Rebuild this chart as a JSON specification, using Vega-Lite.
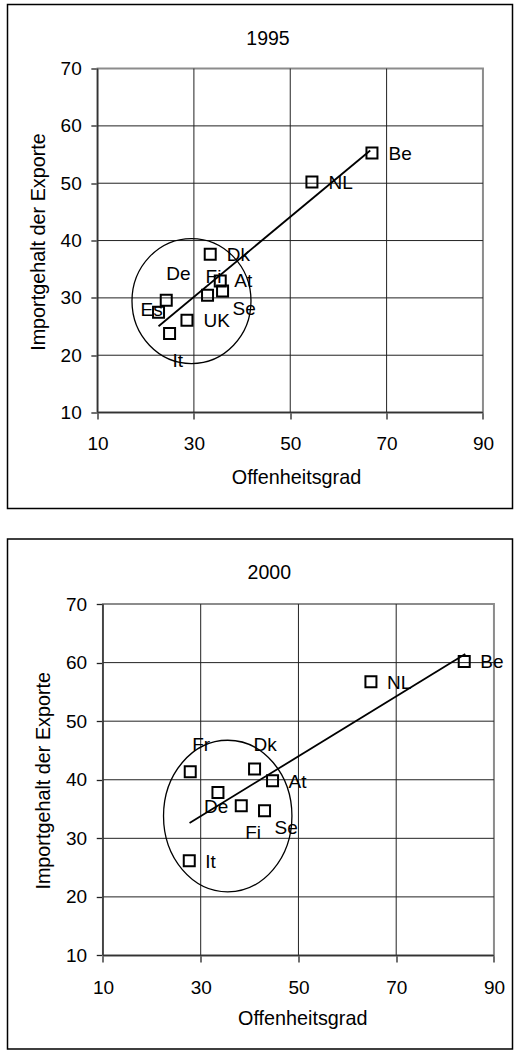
{
  "$schema": "https://vega.github.io/schema/vega-lite/v6.json",
  "background": "white",
  "padding": {"left": 6.5, "top": 3.5, "right": 0, "bottom": 0},
  "spacing": 28.5,
  "datasets": {
    "d1995": [
      {"land": "Be", "x": 66.96, "y": 55.28},
      {"land": "NL", "x": 54.5, "y": 50.22},
      {"land": "Dk", "x": 33.39, "y": 37.61},
      {"land": "At", "x": 35.47, "y": 32.95},
      {"land": "Se", "x": 35.95, "y": 31.21},
      {"land": "Fi", "x": 32.83, "y": 30.46},
      {"land": "De", "x": 24.26, "y": 29.59},
      {"land": "Es", "x": 22.66, "y": 27.49},
      {"land": "UK", "x": 28.56, "y": 26.1},
      {"land": "It", "x": 24.95, "y": 23.78}
    ],
    "d2000": [
      {"land": "Be", "x": 83.92, "y": 60.2},
      {"land": "NL", "x": 64.83, "y": 56.73},
      {"land": "Fr", "x": 27.86, "y": 41.37},
      {"land": "Dk", "x": 41.02, "y": 41.83},
      {"land": "At", "x": 44.7, "y": 39.83},
      {"land": "De", "x": 33.53, "y": 37.83},
      {"land": "Fi", "x": 38.3, "y": 35.56},
      {"land": "Se", "x": 43.06, "y": 34.71},
      {"land": "It", "x": 27.66, "y": 26.17}
    ],
    "t1995": [{"x": 22.66, "y": 25.05}, {"x": 66.6, "y": 55.7}],
    "t2000": [{"x": 27.72, "y": 32.61}, {"x": 84.13, "y": 61.46}],
    "k1995": [{"x": 29.5, "y": 29.45}],
    "k2000": [{"x": 35.53, "y": 33.8}],
    "gv": [{"x": 30, "y": 10, "y2": 70}, {"x": 50, "y": 10, "y2": 70}, {"x": 70, "y": 10, "y2": 70}],
    "gh": [{"x": 10, "x2": 90, "y": 20}, {"x": 10, "x2": 90, "y": 30}, {"x": 10, "x2": 90, "y": 40}, {"x": 10, "x2": 90, "y": 50}, {"x": 10, "x2": 90, "y": 60}],
    "frame": [{"x": 10, "x2": 90, "y": 10, "y2": 70}],
    "axl": [{"x": 10, "y": 10, "y2": 70}],
    "axb": [{"x": 10, "x2": 90, "y": 10}]
  },
  "vconcat": [
    {
      "width": 505,
      "height": 504,
      "title": {"text": "1995", "offset": -45, "dx": 8},
      "encoding": {
        "x": {"field": "x", "type": "quantitative",
          "scale": {"domain": [-8.692, 96.134], "nice": false, "zero": false},
          "axis": {"title": "Offenheitsgrad", "values": [10, 30, 50, 70, 90], "offset": -95.95, "tickSize": 6.5, "labelPadding": 15.5,
            "titleX": 288.5, "titleY": 70.5, "titleAlign": "center", "titleBaseline": "alphabetic", "titleAngle": 0}},
        "y": {"field": "y", "type": "quantitative",
          "scale": {"domain": [-6.735, 81.172], "nice": false, "zero": false},
          "axis": {"title": "Importgehalt der Exporte", "values": [10, 20, 30, 40, 50, 60, 70], "offset": -90.05, "tickSize": 6.7, "labelPadding": 9.6,
            "titleX": -53, "titleY": 237, "titleAlign": "center", "titleBaseline": "alphabetic", "titleAngle": -90}}
      },
      "layer": [
        {"data": {"name": "frame"}, "mark": {"type": "rect", "fill": null, "stroke": "#8c8c8c", "strokeWidth": 2}, "encoding": {"x2": {"field": "x2"}, "y2": {"field": "y2"}}},
        {"data": {"name": "gv"}, "mark": {"type": "rule", "color": "#222", "strokeWidth": 1}, "encoding": {"y2": {"field": "y2"}}},
        {"data": {"name": "gh"}, "mark": {"type": "rule", "color": "#222", "strokeWidth": 1}, "encoding": {"x2": {"field": "x2"}}},
        {"data": {"name": "axl"}, "mark": {"type": "rule", "color": "#333", "strokeWidth": 1.5}, "encoding": {"y2": {"field": "y2"}}},
        {"data": {"name": "axb"}, "mark": {"type": "rule", "color": "#333", "strokeWidth": 1.5}, "encoding": {"x2": {"field": "x2"}}},
        {"data": {"name": "k1995"}, "mark": {"type": "point", "shape": "M 0.952 0 C 0.952 0.5523 0.5258 1 0 1 C -0.5258 1 -0.952 0.5523 -0.952 0 C -0.952 -0.5523 -0.5258 -1 0 -1 C 0.5258 -1 0.952 -0.5523 0.952 0 Z", "size": 15625, "filled": false, "stroke": "black", "strokeWidth": 1.3, "opacity": 1}},
        {"data": {"name": "t1995"}, "mark": {"type": "line", "color": "black", "strokeWidth": 1.8}},
        {"data": {"name": "d1995"}, "mark": {"type": "point", "shape": "square", "size": 121, "filled": false, "stroke": "black", "strokeWidth": 2, "opacity": 1}},
        {"data": {"name": "d1995"}, "transform": [{"filter": {"field": "land", "oneOf": ["Be", "NL", "Dk", "UK"]}}], "mark": {"type": "text", "align": "left", "baseline": "middle", "dx": 16.5, "dy": 1, "fontSize": 19, "color": "black"}, "encoding": {"text": {"field": "land"}}},
        {"data": {"name": "d1995"}, "transform": [{"filter": {"field": "land", "equal": "De"}}], "mark": {"type": "text", "align": "left", "baseline": "middle", "dx": 0, "dy": -26, "fontSize": 19, "color": "black"}, "encoding": {"text": {"field": "land"}}},
        {"data": {"name": "d1995"}, "transform": [{"filter": {"field": "land", "equal": "Fi"}}], "mark": {"type": "text", "align": "left", "baseline": "middle", "dx": -2, "dy": -18, "fontSize": 19, "color": "black"}, "encoding": {"text": {"field": "land"}}},
        {"data": {"name": "d1995"}, "transform": [{"filter": {"field": "land", "equal": "At"}}], "mark": {"type": "text", "align": "left", "baseline": "middle", "dx": 14, "dy": 0, "fontSize": 19, "color": "black"}, "encoding": {"text": {"field": "land"}}},
        {"data": {"name": "d1995"}, "transform": [{"filter": {"field": "land", "equal": "Se"}}], "mark": {"type": "text", "align": "left", "baseline": "middle", "dx": 10, "dy": 18, "fontSize": 19, "color": "black"}, "encoding": {"text": {"field": "land"}}},
        {"data": {"name": "d1995"}, "transform": [{"filter": {"field": "land", "equal": "Es"}}], "mark": {"type": "text", "align": "left", "baseline": "middle", "dx": -18, "dy": -2, "fontSize": 19, "color": "black"}, "encoding": {"text": {"field": "land"}}},
        {"data": {"name": "d1995"}, "transform": [{"filter": {"field": "land", "equal": "It"}}], "mark": {"type": "text", "align": "left", "baseline": "middle", "dx": 3, "dy": 27, "fontSize": 19, "color": "black"}, "encoding": {"text": {"field": "land"}}}
      ]
    },
    {
      "width": 505,
      "height": 510,
      "title": {"text": "2000", "offset": -44.4, "dx": 9.3},
      "encoding": {
        "x": {"field": "x", "type": "quantitative",
          "scale": {"domain": [-9.529, 93.795], "nice": false, "zero": false},
          "axis": {"title": "Offenheitsgrad", "values": [10, 30, 50, 70, 90], "offset": -93.55, "tickSize": 6.5, "labelPadding": 16.5,
            "titleX": 294.75, "titleY": 69.3, "titleAlign": "center", "titleBaseline": "alphabetic", "titleAngle": 0}},
        "y": {"field": "y", "type": "quantitative",
          "scale": {"domain": [-5.973, 81.107], "nice": false, "zero": false},
          "axis": {"title": "Importgehalt der Exporte", "values": [10, 20, 30, 40, 50, 60, 70], "offset": -95.45, "tickSize": 6.7, "labelPadding": 9.6,
            "titleX": -53, "titleY": 241.25, "titleAlign": "center", "titleBaseline": "alphabetic", "titleAngle": -90}}
      },
      "layer": [
        {"data": {"name": "frame"}, "mark": {"type": "rect", "fill": null, "stroke": "#8c8c8c", "strokeWidth": 2}, "encoding": {"x2": {"field": "x2"}, "y2": {"field": "y2"}}},
        {"data": {"name": "gv"}, "mark": {"type": "rule", "color": "#222", "strokeWidth": 1}, "encoding": {"y2": {"field": "y2"}}},
        {"data": {"name": "gh"}, "mark": {"type": "rule", "color": "#222", "strokeWidth": 1}, "encoding": {"x2": {"field": "x2"}}},
        {"data": {"name": "axl"}, "mark": {"type": "rule", "color": "#333", "strokeWidth": 1.5}, "encoding": {"y2": {"field": "y2"}}},
        {"data": {"name": "axb"}, "mark": {"type": "rule", "color": "#333", "strokeWidth": 1.5}, "encoding": {"x2": {"field": "x2"}}},
        {"data": {"name": "k2000"}, "mark": {"type": "point", "shape": "M 0.847 0 C 0.847 0.5523 0.4678 1 0 1 C -0.4678 1 -0.847 0.5523 -0.847 0 C -0.847 -0.5523 -0.4678 -1 0 -1 C 0.4678 -1 0.847 -0.5523 0.847 0 Z", "size": 22983, "filled": false, "stroke": "black", "strokeWidth": 1.3, "opacity": 1}},
        {"data": {"name": "t2000"}, "mark": {"type": "line", "color": "black", "strokeWidth": 1.8}},
        {"data": {"name": "d2000"}, "mark": {"type": "point", "shape": "square", "size": 121, "filled": false, "stroke": "black", "strokeWidth": 2, "opacity": 1}},
        {"data": {"name": "d2000"}, "transform": [{"filter": {"field": "land", "oneOf": ["Be", "NL", "At", "It"]}}], "mark": {"type": "text", "align": "left", "baseline": "middle", "dx": 16, "dy": 1, "fontSize": 19, "color": "black"}, "encoding": {"text": {"field": "land"}}},
        {"data": {"name": "d2000"}, "transform": [{"filter": {"field": "land", "equal": "Fr"}}], "mark": {"type": "text", "align": "left", "baseline": "middle", "dx": 2, "dy": -27, "fontSize": 19, "color": "black"}, "encoding": {"text": {"field": "land"}}},
        {"data": {"name": "d2000"}, "transform": [{"filter": {"field": "land", "equal": "Dk"}}], "mark": {"type": "text", "align": "left", "baseline": "middle", "dx": -1, "dy": -24, "fontSize": 19, "color": "black"}, "encoding": {"text": {"field": "land"}}},
        {"data": {"name": "d2000"}, "transform": [{"filter": {"field": "land", "equal": "De"}}], "mark": {"type": "text", "align": "left", "baseline": "middle", "dx": -14, "dy": 15, "fontSize": 19, "color": "black"}, "encoding": {"text": {"field": "land"}}},
        {"data": {"name": "d2000"}, "transform": [{"filter": {"field": "land", "equal": "Fi"}}], "mark": {"type": "text", "align": "left", "baseline": "middle", "dx": 4, "dy": 27, "fontSize": 19, "color": "black"}, "encoding": {"text": {"field": "land"}}},
        {"data": {"name": "d2000"}, "transform": [{"filter": {"field": "land", "equal": "Se"}}], "mark": {"type": "text", "align": "left", "baseline": "middle", "dx": 10, "dy": 17, "fontSize": 19, "color": "black"}, "encoding": {"text": {"field": "land"}}}
      ]
    }
  ],
  "config": {
    "font": "Liberation Sans",
    "view": {"stroke": "black", "strokeWidth": 1.5, "fill": "white"},
    "axis": {
      "domain": false, "grid": false, "labelFlush": false, "labelOverlap": false,
      "labelFont": "Liberation Sans", "labelFontSize": 19, "labelColor": "black",
      "titleFont": "Liberation Sans", "titleFontSize": 19.8, "titleFontWeight": "normal", "titleColor": "black",
      "tickColor": "#222", "tickWidth": 1.3
    },
    "title": {"font": "Liberation Sans", "fontSize": 19.5, "fontWeight": "normal", "color": "black", "anchor": "middle", "frame": "group", "baseline": "alphabetic"},
    "text": {"font": "Liberation Sans"}
  }
}
